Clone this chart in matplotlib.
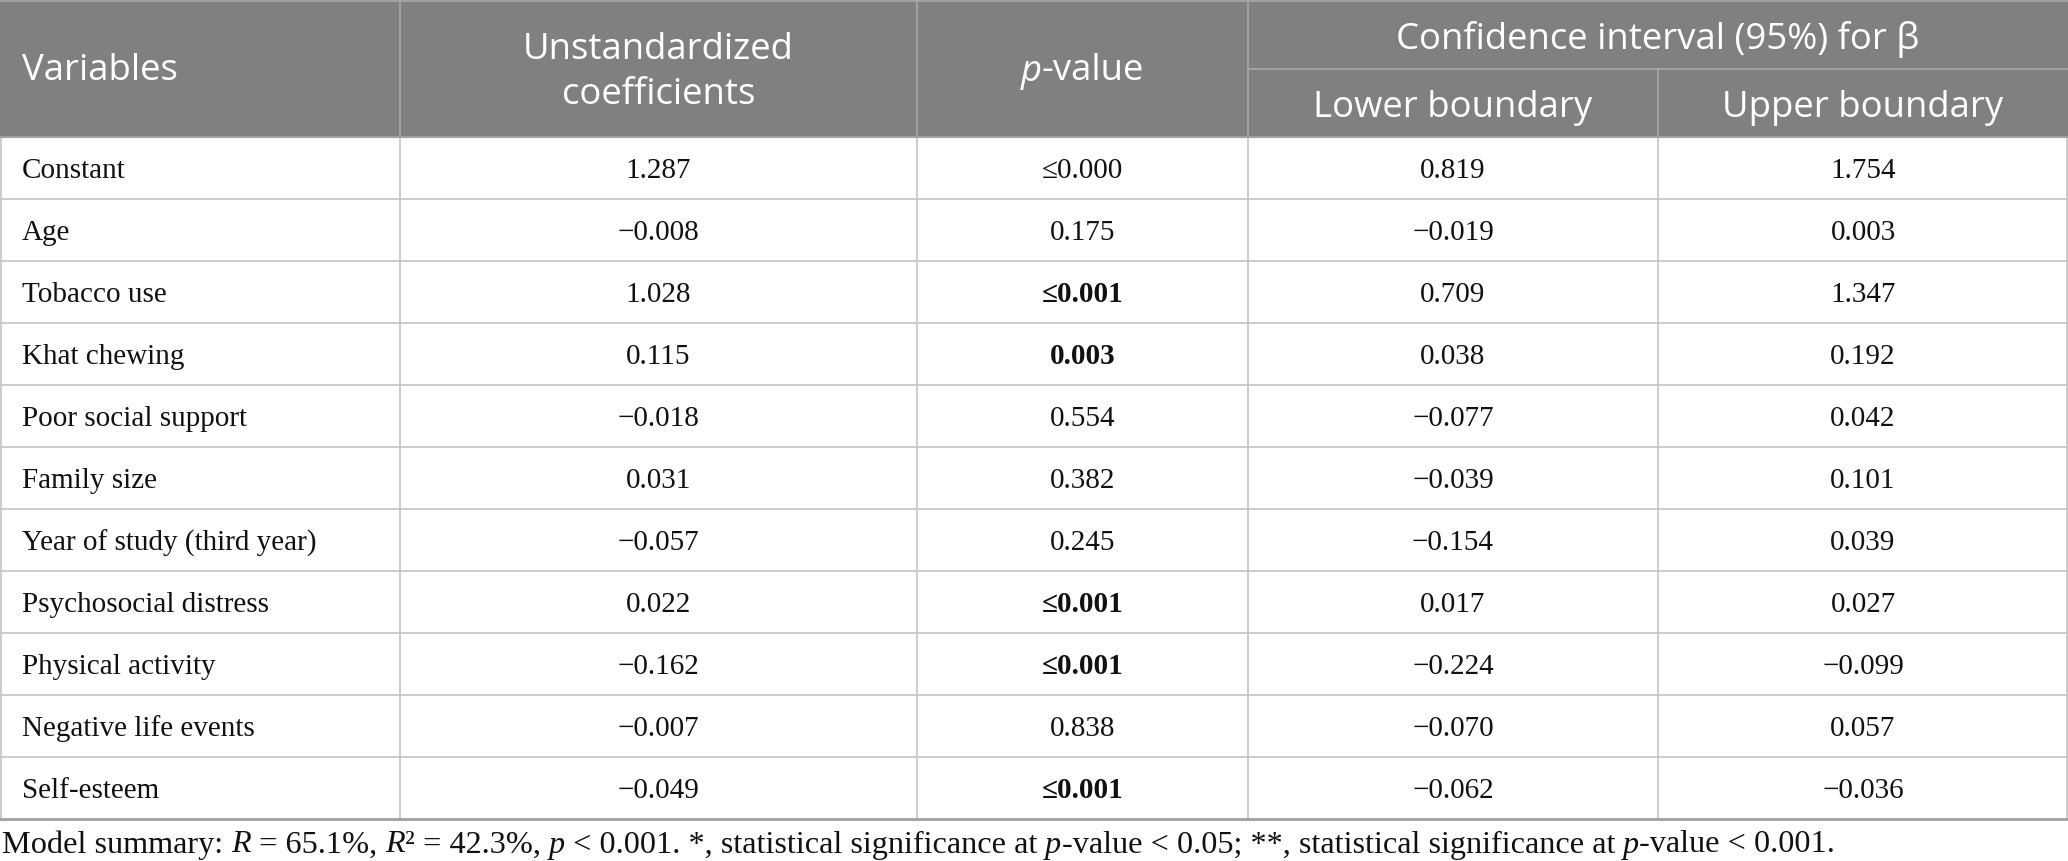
import matplotlib
matplotlib.use("Agg")
import matplotlib.pyplot as plt
from matplotlib.patches import Rectangle

variables = ["Constant", "Age", "Tobacco use", "Khat chewing", "Poor social support",
             "Family size", "Year of study (third year)", "Psychosocial distress",
             "Physical activity", "Negative life events", "Self-esteem"]
coefficients = ["1.287", "\u22120.008", "1.028", "0.115", "\u22120.018", "0.031",
                "\u22120.057", "0.022", "\u22120.162", "\u22120.007", "\u22120.049"]
p_values = ["\u22640.000", "0.175", "\u22640.001", "0.003", "0.554", "0.382",
            "0.245", "\u22640.001", "\u22640.001", "0.838", "\u22640.001"]
p_bold = [False, False, True, True, False, False, False, True, True, False, True]
lower_bound = ["0.819", "\u22120.019", "0.709", "0.038", "\u22120.077", "\u22120.039",
               "\u22120.154", "0.017", "\u22120.224", "\u22120.070", "\u22120.062"]
upper_bound = ["1.754", "0.003", "1.347", "0.192", "0.042", "0.101",
               "0.039", "0.027", "\u22120.099", "0.057", "\u22120.036"]

W, H = 2068, 861
DPI = 100
fig = plt.figure(figsize=(W / DPI, H / DPI), dpi=DPI)
ax = fig.add_axes([0, 0, 1, 1])
ax.set_xlim(0, W)
ax.set_ylim(H, 0)
ax.axis("off")

col_x = [0, 400, 917, 1248, 1658, 2068]
head_top, head_mid, head_bot = 0, 69, 137
row_h = 62
n = len(variables)
body_bot = head_bot + n * row_h

HEAD_BG = "#808080"
HEAD_LINE = "#a8a8a8"
GRID = "#c4c4c4"
SANS = "Open Sans"
SERIF = "Liberation Serif"
HFS = 26.3
BFS = 21

# header background
ax.add_patch(Rectangle((0, head_top), W, head_bot - head_top, facecolor=HEAD_BG, edgecolor="none"))
# header lines
for xv in col_x[1:4]:
    ax.plot([xv, xv], [head_top, head_bot], color=HEAD_LINE, lw=1.2)
ax.plot([col_x[4], col_x[4]], [head_mid, head_bot], color=HEAD_LINE, lw=1.2)
ax.plot([col_x[3], W], [head_mid, head_mid], color=HEAD_LINE, lw=1.2)
ax.plot([0, W], [0.6, 0.6], color=HEAD_LINE, lw=1.2)

# body grid
for i in range(1, n):
    y = head_bot + i * row_h
    ax.plot([0, W], [y, y], color=GRID, lw=1.2)
for xv in col_x[1:5]:
    ax.plot([xv, xv], [head_bot, body_bot], color=GRID, lw=1.2)
ax.plot([0.7, 0.7], [head_bot, body_bot], color=GRID, lw=1.2)
ax.plot([W - 0.7, W - 0.7], [head_bot, body_bot], color=GRID, lw=1.2)
ax.plot([0, W], [head_bot, head_bot], color="#a0a0a0", lw=1.5)
ax.plot([0, W], [body_bot, body_bot], color="#a0a0a0", lw=2.0)

hc = (head_top + head_bot) / 2 + 3
# header text
ax.text(22, hc, "Variables", color="white", family=SANS,
        fontsize=HFS, ha="left", va="center")
ax.text((col_x[1] + col_x[2]) / 2, hc + 1, "Unstandardized\ncoefficients",
        color="white", family=SANS, fontsize=HFS, ha="center", va="center", linespacing=1.3)
ax.text((col_x[3] + col_x[5]) / 2, (head_top + head_mid) / 2 + 5,
        "Confidence interval (95%) for \u03b2", color="white", family=SANS,
        fontsize=HFS, ha="center", va="center")
ax.text((col_x[3] + col_x[4]) / 2, (head_mid + head_bot) / 2 + 5, "Lower boundary",
        color="white", family=SANS, fontsize=HFS, ha="center", va="center")
ax.text((col_x[4] + col_x[5]) / 2, (head_mid + head_bot) / 2 + 5, "Upper boundary",
        color="white", family=SANS, fontsize=HFS, ha="center", va="center")

fig.canvas.draw()
renderer = fig.canvas.get_renderer()


def text_width(t):
    bb = t.get_window_extent(renderer=renderer)
    return bb.width


def draw_pieces(pieces, x, y, ha="left", **common):
    objs = []
    for s, st in pieces:
        kw = dict(common)
        kw.update(st)
        t = ax.text(0, y, s, ha="left", va="center", **kw)
        objs.append(t)
    widths = [text_width(t) for t in objs]
    total = sum(widths)
    if ha == "center":
        cur = x - total / 2
    else:
        cur = x
    for t, w in zip(objs, widths):
        t.set_x(cur)
        cur += w


# p-value header with italic p
draw_pieces([("p", {"style": "italic"}), ("-value", {})],
            (col_x[2] + col_x[3]) / 2, hc, ha="center",
            color="white", family=SANS, fontsize=HFS)

# body
for i in range(n):
    yc = head_bot + i * row_h + row_h / 2 + 3
    ax.text(22, yc, variables[i], family=SERIF, fontsize=BFS, ha="left", va="center", color="#111111")
    ax.text((col_x[1] + col_x[2]) / 2, yc, coefficients[i], family=SERIF, fontsize=BFS,
            ha="center", va="center", color="#111111")
    ax.text((col_x[2] + col_x[3]) / 2, yc, p_values[i], family=SERIF, fontsize=BFS,
            ha="center", va="center", color="#111111",
            fontweight="bold" if p_bold[i] else "normal")
    ax.text((col_x[3] + col_x[4]) / 2, yc, lower_bound[i], family=SERIF, fontsize=BFS,
            ha="center", va="center", color="#111111")
    ax.text((col_x[4] + col_x[5]) / 2, yc, upper_bound[i], family=SERIF, fontsize=BFS,
            ha="center", va="center", color="#111111")

# footnote
I = {"style": "italic"}
N = {}
foot = [("Model summary: ", N), ("R", I), (" = 65.1%, ", N), ("R", I), ("\u00b2", N),
        (" = 42.3%, ", N), ("p", I), (" < 0.001. *, statistical significance at ", N),
        ("p", I), ("-value < 0.05; **, statistical significance at ", N), ("p", I),
        ("-value < 0.001.", N)]
draw_pieces(foot, 2, 845, ha="left", family=SERIF, fontsize=23.2, color="#111111")

fig.savefig("out.png", dpi=DPI)
